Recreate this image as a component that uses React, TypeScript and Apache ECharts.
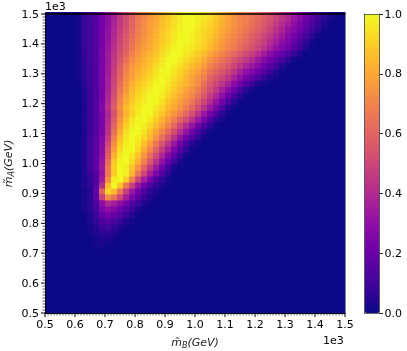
import React, { useEffect, useRef } from "react";
import * as echarts from "echarts";

const FONT = "DejaVu Sans";
const plasma = ["#0d0887", "#41049d", "#6a00a8", "#8f0da4", "#b12a90", "#cc4778", "#e16462", "#f2844b", "#fca636", "#fcce25", "#f0f921"];

// Cell size and the first non-zero column/row, in GeV. Values are percent.
// Each row starts at mB = 610 and runs in steps of 20; anything not listed is 0.
const cellStep = 20;
const firstColumn = 510;
const columnCount = 50;
const firstRow = 510;
const rowCount = 50;
const listedColumnOffset = 5;

const row0710 = [0,0,0,0,1];
const row0730 = [0,0,0,1,2,1];
const row0750 = [0,0,0,2,4,3,1];
const row0770 = [0,0,1,3,6,6,4,1];
const row0790 = [0,0,2,5,9,10,7,4,1];
const row0810 = [0,0,3,7,13,15,12,8,4,1];
const row0830 = [0,0,4,9,18,22,19,14,9,4,1];
const row0850 = [0,2,5,11,24,30,27,21,15,9,4,1];
const row0870 = [0,2,6,13,30,40,36,30,22,15,9,4,1];
const row0890 = [0,2,6,16,48,72,65,50,36,25,16,9,4,1];
const row0910 = [0,2,5,18,60,92,85,66,48,33,22,13,7,3,1];
const row0930 = [0,3,7,15,42,85,100,88,67,48,33,22,13,7,3,1];
const row0950 = [0,3,8,14,35,72,97,100,90,70,50,36,24,14,7,2];
const row0970 = [0,3,9,15,32,66,90,100,98,84,65,50,36,24,14,6,1];
const row0990 = [0,3,10,18,34,66,90,100,98,87,74,60,46,33,21,11,3];
const row1010 = [0,3,10,17,32,62,88,99,100,93,82,69,56,43,31,20,10,3];
const row1030 = [0,3,10,17,30,58,82,96,100,96,87,75,63,51,39,28,18,9,2];
const row1050 = [0,3,10,17,29,54,77,93,99,100,92,82,71,59,47,36,25,15,7,1];
const row1070 = [0,3,10,16,28,50,73,90,98,100,95,87,77,66,55,44,33,22,12,5,1];
const row1090 = [0,3,10,16,26,46,68,86,96,100,98,92,84,74,64,54,43,32,22,14,6,1];
const row1110 = [0,3,9,15,25,43,64,82,93,99,100,95,88,80,71,62,52,42,32,22,13,6,1];
const row1130 = [0,3,9,15,24,41,60,78,90,97,100,98,92,85,78,70,61,51,41,32,22,13,6,1];
const row1150 = [0,3,9,15,24,40,57,74,87,95,99,100,96,90,83,76,68,60,52,43,33,24,14,6,2];
const row1170 = [0,3,9,15,24,38,54,71,83,91,97,100,99,94,88,81,75,68,61,53,43,33,24,14,6,1];
const row1190 = [0,3,9,15,26,42,58,74,85,91,96,99,100,97,91,85,80,74,68,61,52,43,33,24,14,5,1];
const row1210 = [0,3,9,15,25,40,55,71,82,89,94,97,100,99,94,88,83,78,72,66,58,50,41,32,22,13,6,1];
const row1230 = [0,3,9,14,24,38,53,68,79,87,92,96,99,100,97,91,86,81,76,71,64,56,47,39,30,21,13,6,1];
const row1250 = [0,3,9,14,24,37,51,65,76,85,90,94,97,100,99,94,89,84,79,74,68,60,52,45,37,29,21,13,6,2];
const row1270 = [1,5,10,15,24,36,50,63,74,82,87,91,95,99,100,96,91,87,83,78,72,64,56,50,44,37,29,22,15,9,4,1];
const row1290 = [1,6,10,15,24,36,49,61,72,79,84,88,92,97,100,98,94,89,84,79,74,68,60,55,50,44,37,30,23,18,13,8,3,1];
const row1310 = [1,6,10,15,24,35,47,59,70,77,82,86,90,95,99,100,96,91,87,82,78,72,65,60,55,50,44,37,30,25,20,15,9,4,1];
const row1330 = [1,6,10,15,24,35,46,57,67,75,80,84,88,93,97,100,98,94,90,86,82,77,70,65,60,56,50,44,38,33,27,21,16,10,5,1];
const row1350 = [1,7,11,15,24,34,45,55,64,72,78,82,86,90,95,99,100,97,93,90,86,81,75,70,65,61,55,50,45,40,34,28,22,16,11,6,1];
const row1370 = [1,7,11,15,24,34,44,53,61,69,75,80,84,88,93,97,100,99,96,93,90,86,80,75,70,66,61,56,51,47,41,35,29,23,18,13,8,3];
const row1390 = [1,8,11,15,24,33,42,51,58,66,73,77,81,86,91,95,99,100,98,96,93,90,85,80,75,71,67,62,58,54,49,43,37,31,26,21,15,9,3];
const row1410 = [1,8,11,15,23,32,41,50,57,64,71,76,80,85,89,93,97,100,99,97,94,91,87,82,77,73,69,65,61,57,52,47,41,35,30,25,19,13,7,2];
const row1430 = [1,8,11,15,23,31,40,49,56,63,69,74,79,83,88,92,96,99,100,98,95,92,89,84,79,75,71,67,63,59,55,50,45,39,34,28,23,17,11,6,1];
const row1450 = [1,8,11,15,22,31,39,47,54,61,68,73,78,82,87,91,95,98,100,99,96,93,90,86,81,77,73,69,66,62,58,54,49,43,38,32,27,21,15,10,5,1];
const row1470 = [1,8,11,15,22,30,38,46,53,60,67,72,77,81,86,90,94,97,100,100,97,94,91,87,83,78,74,71,68,64,60,56,52,46,41,36,30,24,18,13,8,3,1];
const row1490 = [1,8,11,15,22,30,37,45,52,59,66,71,76,80,85,89,93,97,100,100,98,96,93,89,84,79,75,71,68,65,62,58,54,49,44,39,33,27,21,16,11,6,3,1];

const listedRows: Record<number, number[]> = {
  710: row0710, 730: row0730, 750: row0750, 770: row0770, 790: row0790, 810: row0810, 830: row0830, 850: row0850,
  870: row0870, 890: row0890, 910: row0910, 930: row0930, 950: row0950, 970: row0970, 990: row0990, 1010: row1010,
  1030: row1030, 1050: row1050, 1070: row1070, 1090: row1090, 1110: row1110, 1130: row1130, 1150: row1150, 1170: row1170,
  1190: row1190, 1210: row1210, 1230: row1230, 1250: row1250, 1270: row1270, 1290: row1290, 1310: row1310, 1330: row1330,
  1350: row1350, 1370: row1370, 1390: row1390, 1410: row1410, 1430: row1430, 1450: row1450, 1470: row1470, 1490: row1490,
};

function buildCells() {
  const cells: number[][] = [];
  for (let j = 0; j < rowCount; j++) {
    const y = firstRow + j * cellStep;
    const row = listedRows[y] || [];
    for (let i = 0; i < columnCount; i++) {
      const x = firstColumn + i * cellStep;
      const v = row[i - listedColumnOffset] ?? 0;
      cells.push([x, y, v / 100]);
    }
  }
  return cells;
}

function buildTopEdge() {
  const cells: number[][] = [];
  for (let i = 0; i < columnCount; i++) {
    cells.push([firstColumn + i * cellStep, 1500, (row1490[i - listedColumnOffset] ?? 0) / 100]);
  }
  return cells;
}

function renderCell(_: any, api: any) {
  const x = api.value(0), y = api.value(1);
  const a = api.coord([x - cellStep / 2, y + cellStep / 2]);
  const b = api.coord([x + cellStep / 2, y - cellStep / 2]);
  const c = api.visual("color");
  return {
    type: "rect",
    shape: { x: a[0], y: a[1], width: b[0] - a[0] + 1, height: b[1] - a[1] + 1 },
    style: { fill: c, stroke: null },
  };
}

function renderEdgeCell(_: any, api: any) {
  const x = api.value(0);
  const a = api.coord([x - cellStep / 2, 1500]);
  const b = api.coord([x + cellStep / 2, 1500]);
  return {
    type: "rect",
    shape: { x: a[0], y: a[1] - 2, width: b[0] - a[0] + 0.4, height: 2 },
    style: { fill: api.visual("color"), stroke: null },
  };
}

// Tick marks on both axes: [GeV, isMajor].
const axisRange = [500, 1500];
const majorTickStep = 100;
const minorTickStep = 10;
function buildTicks() {
  const out: number[][] = [];
  for (let v = axisRange[0]; v <= axisRange[1]; v += minorTickStep) {
    out.push([v, (v - axisRange[0]) % majorTickStep === 0 ? 1 : 0]);
  }
  return out;
}

function renderTick(axis: "x" | "y") {
  return (_: any, api: any) => {
    const v = api.value(0);
    const isMajor = api.value(1) === 1;
    const len = isMajor ? 4 : 2.5;
    const p = api.coord([axis === "x" ? v : axisRange[0], axis === "x" ? axisRange[0] : v]);
    const shape = axis === "x"
      ? { x1: p[0], y1: p[1], x2: p[0], y2: p[1] + len }
      : { x1: p[0] - len, y1: p[1], x2: p[0], y2: p[1] };
    return {
      type: "line",
      shape,
      style: { stroke: isMajor ? "#000" : "#333", lineWidth: isMajor ? 1 : 0.8, fill: null },
    };
  };
}

const fmt = (v: number) => (v / 1000).toFixed(1);
const labelStyle = { color: "#000", fontFamily: FONT, fontSize: 11 };
const lineBlack = { show: true, onZero: false, lineStyle: { color: "#000", width: 1 } };
const nameRich = {
  it: { fontFamily: FONT, fontStyle: "italic", fontSize: 11, color: "#222" },
  sub: { fontFamily: FONT, fontStyle: "italic", fontSize: 8, color: "#222", padding: [5, 0, 0, 0] },
};

export default function App() {
  const ref = useRef<HTMLDivElement>(null);
  useEffect(() => {
    document.body.style.margin = "0";
    const chart = echarts.init(ref.current!, null, { renderer: "svg" });
    chart.setOption({
      animation: false,
      backgroundColor: "#fff",
      textStyle: { fontFamily: FONT },
      grid: [
        { left: 45, top: 14, width: 300, height: 299, containLabel: false, outerBoundsMode: "none" },
        { left: 364.5, top: 14, width: 15, height: 299, containLabel: false, outerBoundsMode: "none" },
      ],
      xAxis: [
        {
          type: "value", gridIndex: 0, min: 500, max: 1500, interval: 100, z: 5, position: "bottom",
          axisLine: lineBlack, axisTick: { show: false }, splitLine: { show: false },
          axisLabel: { ...labelStyle, formatter: fmt, margin: 6, hideOverlap: false, showMinLabel: true, showMaxLabel: true },
          name: "{it|m\u0303}{sub|B}{it|(GeV)}", nameLocation: "middle", nameGap: 23, nameMoveOverlap: false,
          nameTextStyle: { rich: nameRich },
        },
        {
          type: "value", gridIndex: 0, position: "top", min: 500, max: 1500, z: 5,
          axisLine: { show: true, onZero: false, lineStyle: { color: "#000", width: 1.5 } },
          axisTick: { show: false }, axisLabel: { show: false }, splitLine: { show: false },
        },
        {
          type: "value", gridIndex: 1, min: 0, max: 1, position: "bottom", z: 5,
          axisLine: { show: true, onZero: false, lineStyle: { color: "#444", width: 0.8 } },
          axisTick: { show: false }, axisLabel: { show: false }, splitLine: { show: false },
        },
        {
          type: "value", gridIndex: 1, min: 0, max: 1, position: "top", z: 5,
          axisLine: { show: true, onZero: false, lineStyle: { color: "#444", width: 0.8 } },
          axisTick: { show: false }, axisLabel: { show: false }, splitLine: { show: false },
        },
      ],
      yAxis: [
        {
          type: "value", gridIndex: 0, min: 500, max: 1500, interval: 100, z: 5, position: "left",
          axisLine: lineBlack, axisTick: { show: false }, splitLine: { show: false },
          axisLabel: { ...labelStyle, formatter: fmt, margin: 6, showMinLabel: true, showMaxLabel: true },
          name: "{it|m\u0303}{sub|A}{it|(GeV)}", nameLocation: "middle", nameGap: 30, nameMoveOverlap: false,
          nameTextStyle: { rich: nameRich },
        },
        {
          type: "value", gridIndex: 0, position: "right", min: 500, max: 1500, z: 5,
          axisLine: { show: true, onZero: false, lineStyle: { color: "#667", width: 0.8 } },
          axisTick: { show: false }, axisLabel: { show: false }, splitLine: { show: false },
        },
        {
          type: "value", gridIndex: 1, position: "right", min: 0, max: 1, interval: 0.2, z: 5,
          axisLine: { show: true, onZero: false, lineStyle: { color: "#444", width: 0.8 } },
          axisTick: { show: true, length: 3.5, lineStyle: { color: "#111", width: 0.9 } },
          axisLabel: { ...labelStyle, formatter: (v: number) => v.toFixed(1), margin: 5 },
          splitLine: { show: false },
        },
        {
          type: "value", gridIndex: 1, position: "left", min: 0, max: 1, z: 5,
          axisLine: { show: true, onZero: false, lineStyle: { color: "#444", width: 0.8 } },
          axisTick: { show: false }, axisLabel: { show: false }, splitLine: { show: false },
        },
      ],
      visualMap: {
        type: "continuous", min: 0, max: 1, dimension: 2, seriesIndex: [0, 1],
        left: 364.5, top: 14, itemWidth: 15, itemHeight: 299, padding: 0, text: ["", ""],
        calculable: false, realtime: false, hoverLink: false,
        inRange: { color: plasma }, outOfRange: { color: plasma[0] },
      },
      series: [
        {
          type: "custom", name: "heat", xAxisIndex: 0, yAxisIndex: 0, data: buildCells(),
          renderItem: renderCell, encode: { x: 0, y: 1 }, clip: true, silent: true, z: 1,
        },
        {
          type: "custom", name: "top edge", xAxisIndex: 0, yAxisIndex: 0, data: buildTopEdge(),
          renderItem: renderEdgeCell, encode: { x: 0, y: 1 }, clip: false, silent: true, z: 1,
        },
        {
          type: "custom", name: "x ticks", xAxisIndex: 0, yAxisIndex: 0, data: buildTicks(),
          renderItem: renderTick("x"), clip: false, silent: true, z: 6,
        },
        {
          type: "custom", name: "y ticks", xAxisIndex: 0, yAxisIndex: 0, data: buildTicks(),
          renderItem: renderTick("y"), clip: false, silent: true, z: 6,
        },
      ],
      graphic: [
        { type: "text", left: 45, top: 1, style: { text: "1e3", font: `11px "${FONT}"`, fill: "#000" } },
        { type: "text", left: 323, top: 335, style: { text: "1e3", font: `11px "${FONT}"`, fill: "#000" } },
      ],
    });
    return () => chart.dispose();
  }, []);
  return <div ref={ref} style={{ width: 407, height: 351, filter: "blur(0.45px)" }} />;
}
